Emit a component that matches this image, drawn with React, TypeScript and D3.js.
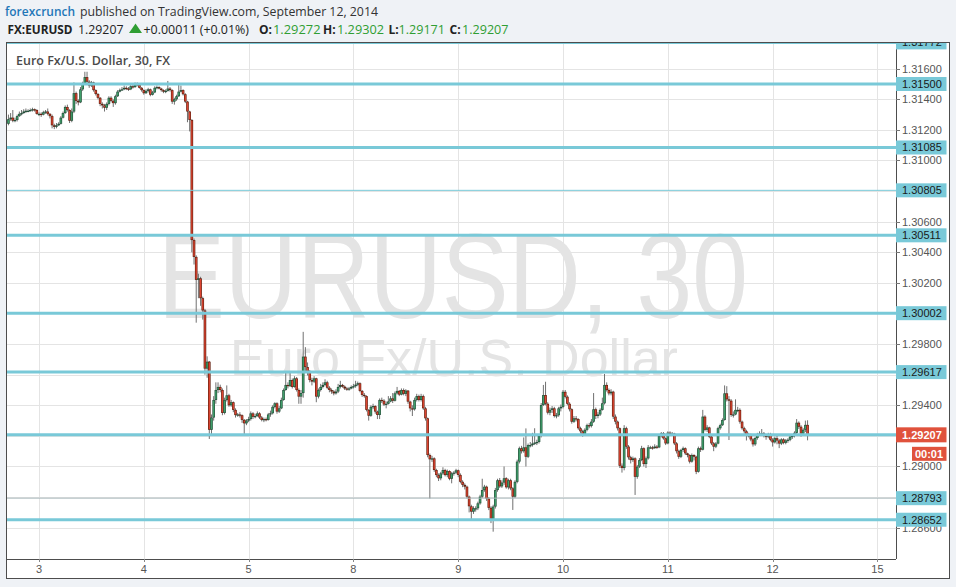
import React from "react";
import * as d3 from "d3";

// ---------- DATA (prices in pips above 1.28000, 30-minute bars, [high, low, close]) ----------
const PRICE_BASE = 1.28;
const PIP = 0.0001;
const FIRST_BAR = -14; // Sep 2, 17:00
const FIRST_OPEN = 324;

const sep02: number[][] = [
  [330, 323, 327], [331, 326, 328], [333, 325, 326], [328, 325, 326.5], [330, 325.5, 329], [332, 328.5, 330.5],
  [333, 329.5, 331], [333.5, 330.5, 332], [334, 331, 332.5], [333.5, 331.5, 332.5], [334, 332, 333], [334.5, 332, 333.5],
  [334, 332, 333], [333.5, 330, 330.5],
];
const sep03: number[][] = [
  [331.5, 329, 330.5], [331.5, 328.5, 330], [332.5, 329.5, 331.5], [333, 330.5, 332], [334, 329.5, 330.5], [331, 327.5, 329],
  [330, 321, 323], [324, 320.5, 322], [324.5, 321, 323], [325, 322.5, 324], [329, 323.5, 328], [332, 327.5, 331],
  [336, 330.5, 335], [336.5, 332, 333], [333.5, 324.5, 326], [334, 325, 332], [351, 331, 344], [345, 337, 339],
  [340, 336, 338], [348, 337.5, 346.5], [351.5, 345.5, 350], [358, 349.5, 354.5], [358, 350, 351.5], [352.5, 347.5, 349],
  [352, 348, 351], [351.5, 345, 346], [346.5, 342.5, 343.5], [344, 340, 341], [341.5, 335.5, 337], [338, 334, 336],
  [337, 332, 334.5], [338, 333, 337], [342, 336, 341], [342, 338, 339], [340, 335, 337.5], [343, 336.5, 342],
  [346, 341.5, 345], [347, 344.5, 346], [348, 345.5, 346.5], [349, 346, 347.5], [348.5, 346, 347], [348, 345.5, 346.5],
  [349.5, 346, 348.5], [349.5, 347, 348], [351, 347.5, 350], [351, 348.5, 349.5], [350, 347, 347.5], [348, 345, 346],
];
const sep04: number[][] = [
  [346.5, 343, 344], [346.5, 343.5, 345.5], [347.5, 344.5, 346.5], [347, 342, 343], [345.5, 342.5, 344.5], [348.5, 344, 347.5],
  [349, 346.5, 348], [348.5, 346.5, 347], [347.5, 345, 346], [346.5, 344, 345], [346.5, 344, 345.5], [352, 345, 347],
  [348, 345, 346], [346.5, 337, 338.5], [341, 336.5, 340], [343, 339, 342], [349.5, 341.5, 345], [349, 344.5, 346],
  [346.5, 342.5, 343.3], [344, 337.5, 338.5], [339, 325, 332], [332.5, 319, 326.5], [327, 240, 248], [249, 232, 237],
  [238, 194, 222], [226, 210, 223], [224, 205, 210], [211, 196, 202], [203, 160, 164], [172, 158, 168.5],
  [169, 118, 124], [134, 121, 132], [146, 130, 143.5], [155, 141, 150], [155, 148, 152], [153.5, 148.5, 150],
  [151, 133.5, 135], [145, 134, 143.5], [153, 142.5, 146.5], [147.5, 139, 140], [143.5, 139, 142], [142.5, 135.5, 137],
  [138, 132, 133.6], [135, 132.5, 134], [135.5, 132, 133.5], [134, 128.5, 130.5], [131, 121, 128.2], [131, 127, 130],
];
const sep05: number[][] = [
  [132.5, 129, 131], [136, 130, 134.7], [135.5, 131, 132.5], [134.5, 131.5, 133], [136, 132.5, 134.7], [135.5, 131, 132],
  [133, 129.5, 130.4], [132, 129, 131], [132, 129.5, 130.4], [135, 130, 134], [136.5, 132.5, 134.8], [140, 134, 139],
  [142, 138, 141.3], [142, 134.5, 135.9], [139.5, 135, 138], [145, 137.5, 143.5], [151, 143, 150], [162, 149.5, 153.3],
  [155, 151, 152.5], [162, 152, 156.5], [157.5, 151, 152], [159, 151.5, 157.6], [158.5, 149, 150], [151, 141, 145.7],
  [150, 141, 148], [188, 145, 171.8], [178, 162, 165], [168, 159.5, 162], [163, 155, 156.5], [158, 153, 155.5],
  [159, 154.5, 157.6], [158, 142, 145.7], [151, 144.5, 150], [154, 149, 152], [155, 151, 153.3], [157, 152.5, 155],
  [156, 150.5, 151.5], [152.5, 148.5, 150], [151, 147.5, 149], [150, 146.5, 147.8], [150.5, 147, 149], [154, 148, 152],
];
const sep07: number[][] = [
  [156, 151, 153.3], [154, 151.5, 152.2], [153, 150, 151], [152, 149.5, 150.5], [152, 149.5, 151], [153, 150.5, 152],
];
const sep08: number[][] = [
  [154, 151, 152.5], [156, 151.5, 153.5], [155.5, 152.5, 154.4], [155, 148.5, 149.4], [150, 145.5, 146.8], [148, 145, 146],
  [146.5, 136, 137], [137.5, 130, 133.2], [140, 132.5, 139], [141, 137.5, 139.5], [140, 134.5, 135.9], [136.5, 131, 133.7],
  [144.5, 131, 143.5], [145, 141.5, 143], [144, 139.5, 140.5], [142.5, 138, 141], [146, 140.5, 142.5], [146, 142, 144.5],
  [148, 141.5, 143], [149, 142.5, 147.8], [152, 147, 149.4], [150, 146, 147], [151, 146.5, 150], [151, 146.5, 147.5],
  [150.5, 146, 149.6], [150, 141, 142.4], [143, 136, 138], [140, 133, 137.4], [145, 136.5, 143.5], [147.5, 142.5, 146],
  [147, 142.5, 143.5], [147.5, 142.5, 146], [147, 137, 138], [139, 130, 131.5], [132, 106, 107.5], [108.5, 79, 104.7],
  [107, 103, 105.3], [106, 96.5, 97.7], [98.5, 93, 94.4], [95.5, 90.5, 92.3], [96.5, 91, 95.5], [99.5, 94.5, 97.7],
  [98.5, 93.5, 94.4], [98, 93, 97], [97.5, 91, 92], [96.5, 89, 95.5], [97, 94, 96], [98.5, 95, 97.5],
];
const sep09: number[][] = [
  [98, 93, 94.5], [95.5, 89, 90], [91, 86.5, 88], [89, 85, 86.8], [87.5, 79, 80.3], [81, 70, 74],
  [75, 65, 70.5], [74, 69, 72.7], [74, 70.5, 72.7], [77, 71.5, 75.9], [81.5, 75, 80.3], [92, 79.5, 84.6],
  [88, 83.5, 86.8], [87.5, 77.5, 79], [80, 71.5, 73], [74, 63, 65], [75, 57.4, 73.8], [86, 72.5, 84.6],
  [92, 83.5, 91], [92.5, 86, 87], [91, 86, 89.5], [100, 88, 92.3], [93, 85.5, 86.4], [92, 85, 91],
  [92, 84.5, 85.7], [86.5, 71.6, 80.3], [91, 79.5, 90], [104.5, 89, 103.2], [113, 102, 111.9], [113.5, 108.5, 110],
  [119, 109, 112.5], [124.9, 100, 106.4], [115, 105.5, 114], [116, 112.5, 114], [122, 113, 115], [125, 114, 115.6],
  [117.5, 114, 116], [121, 115, 120], [141.5, 119, 140.2], [153.3, 139.5, 146.7], [155.4, 140, 141], [142, 134, 135.2],
  [138.5, 133.5, 137], [139.5, 135, 138], [139, 132, 133], [135, 131.5, 133.5], [139, 132.5, 138], [140.5, 136, 139],
];
const sep10: number[][] = [
  [150, 138, 148.8], [150, 144.5, 145.6], [146.5, 140, 141], [142, 136, 137.4], [138, 128, 129.3], [133, 128.5, 131.5],
  [133, 129.5, 131], [131.5, 124, 125], [126, 121.5, 123], [124, 119.5, 120.6], [125, 120, 124], [128, 123, 127],
  [128.5, 125, 126.5], [131, 125.5, 129.3], [148, 128.5, 137.4], [138.5, 131, 133], [135.5, 131.5, 134], [138, 133, 137],
  [145, 136.5, 141.3], [160.5, 140.5, 153.3], [155, 149, 150], [151, 146.5, 147.8], [150.5, 146.5, 148.9], [149.5, 131, 132.6],
  [134, 127.5, 129.3], [130, 123.5, 125], [125.5, 99, 100.5], [102, 96, 99], [127, 97.5, 125], [126, 111.5, 113],
  [114, 104.5, 106], [107, 102, 104.2], [106.5, 103, 105.3], [106, 81.4, 93.3], [101, 92, 99.9], [105.5, 99, 104.2],
  [113.5, 103.5, 111.9], [112.5, 100, 101.6], [106.5, 99, 105.3], [114, 104.5, 112.5], [113.5, 111.5, 112.5], [113.5, 111, 112],
  [114.5, 111.5, 113], [114, 111.5, 112.5], [121, 112, 119.9], [122.5, 119, 121.7], [122.5, 117.5, 118.4], [119, 114, 115.1],
];
const sep11: number[][] = [
  [123, 114.5, 122.1], [123, 120, 121.2], [122.5, 120, 121.5], [122, 114, 115.1], [116, 108.5, 110], [111, 105, 106.4],
  [111.5, 105.5, 110.8], [113, 109.5, 111.9], [112.5, 107.5, 108.6], [109, 106, 107.5], [108, 102, 103.2], [108.5, 102.5, 107.5],
  [108, 104, 106.4], [107, 95, 96.6], [113, 96, 111.9], [113, 109.5, 111], [137, 110.5, 132.6], [133.5, 123, 124],
  [127, 122.5, 125.5], [126, 118.5, 119.5], [120, 114, 115.1], [116, 110, 113], [116, 112, 115], [126, 114.5, 125],
  [128, 124, 127], [131.5, 126.5, 130.4], [153, 130, 147.8], [152.5, 142.5, 143.9], [146, 117.3, 143], [144, 132.5, 133.7],
  [136, 132, 134], [143.9, 133.5, 137], [139, 135.5, 137], [138, 128, 129.3], [130, 124, 125], [126, 121.5, 123],
  [124, 117, 120], [122, 119, 120.6], [121.5, 116.5, 117.7], [118.5, 113, 114.5], [119.5, 113.5, 118.6], [122, 117.5, 121.2],
  [123, 120, 121.5], [124.5, 120.5, 121.7], [122.5, 119, 120], [121, 117.5, 119.5], [122, 118.5, 121.2], [122, 116.5, 117.5],
];
const sep12: number[][] = [
  [118.5, 113, 115.8], [119.5, 115, 118.5], [120, 114.5, 117], [118, 112, 115], [118.5, 114, 117.7], [118.5, 114.5, 115.5],
  [118, 114.5, 117], [118.5, 115.5, 117.5], [120.5, 116.5, 119.5], [121, 118, 120], [123, 119, 122], [131, 121, 128.6],
  [129.5, 124.5, 126], [127, 119.5, 121.5], [125, 120.5, 124], [130, 122.5, 127.2], [130.2, 117.1, 120.7],
];
const sessions = [sep02, sep03, sep04, sep05, sep07, sep08, sep09, sep10, sep11, sep12];

const dayTickBars = [0, 48, 96, 144, 192, 240, 288, 336, 384];
const dayTickLabels = ["3", "4", "5", "8", "9", "10", "11", "12", "15"];

const priceTicks = [1.286, 1.288, 1.29, 1.292, 1.294, 1.296, 1.298, 1.3, 1.302, 1.304, 1.306, 1.308, 1.31, 1.312, 1.314, 1.316];

const thickLevels = [1.31772, 1.315, 1.31085, 1.30511, 1.30002, 1.29617, 1.29207, 1.28652];
const thinLevels = [1.30805];
const greyLevels = [1.28793];
const lastPrice = 1.29207;
const changeText = "+0.00011 (+0.01%)";

// ---------- VIEW ----------
const VIEW_BARS: [number, number] = [-15.115, 392.5];
const VIEW_PRICES: [number, number] = [1.283954, 1.317745];

const COLORS = {
  bg: "#eff2f6",
  frame: "#4d4d4d",
  grid: "#e4e4e4",
  axisText: "#555555",
  level: "#79c9d8",
  greyLevel: "#aab9bd",
  upFill: "#3f9e6a",
  upLine: "#23513a",
  downFill: "#dc4431",
  downLine: "#65200f",
  wick: "#707070",
  red: "#e0523c",
  watermark: "#e4e4e4",
  green: "#2f9e33",
};

const fmt = (p: number) => p.toFixed(5);

export default function App() {
  const L = 6, R = 896, T = 42, B = 559;
  const x = d3.scaleLinear().domain(VIEW_BARS).range([L, R]);
  const y = d3.scaleLinear().domain(VIEW_PRICES).range([B, T]);

  const bars: { b: number; o: number; h: number; l: number; c: number }[] = [];
  let idx = FIRST_BAR;
  let prev = FIRST_OPEN;
  for (const s of sessions) {
    for (const [h, l, c] of s) {
      bars.push({ b: idx, o: prev, h, l, c });
      prev = c;
      idx++;
    }
  }
  const last = bars[bars.length - 1];
  const P = (v: number) => PRICE_BASE + v * PIP;

  const bodyW = 2.6;
  const innerW = 1.3;

  const labelW = 50.5;
  const labelH = 14;

  const font = "'Liberation Sans', Arial, sans-serif";
  const hfont = "'Open Sans', 'Noto Sans', sans-serif";

  const levelAll = [...greyLevels, ...thinLevels, ...thickLevels];
  // price tick labels fully hidden behind a level label are not drawn (as in the reference)
  const visibleTicks = priceTicks.filter((p) => levelAll.every((lv) => Math.abs(y(lv) - y(p)) > 6.5));

  return (
    <svg
      width={956}
      height={587}
      style={{ position: "fixed", left: 0, top: 0, display: "block" }}
      xmlns="http://www.w3.org/2000/svg"
    >
      <defs>
        <clipPath id="plotClip">
          <rect x={L + 1} y={T + 1} width={R - L - 1} height={B - T - 1} />
        </clipPath>
        <clipPath id="axisClip">
          <rect x={R - 1} y={T + 1} width={949 - R} height={578 - T} />
        </clipPath>
      </defs>
      <rect x={0} y={0} width={956} height={587} fill={COLORS.bg} />

      {/* header */}
      <g fontFamily={hfont} fontSize={12.5}>
        <text x={5} y={15.5} fill="#1f77b8" fontWeight={600} textLength={70} lengthAdjust="spacingAndGlyphs">forexcrunch</text>
        <text x={80} y={15.5} fill="#333" textLength={298} lengthAdjust="spacingAndGlyphs">published on TradingView.com, September 12, 2014</text>
      </g>
      <g fontFamily={hfont} fontSize={12} fill="#222">
        <text x={7.5} y={33.5} fontWeight={700} textLength={65} lengthAdjust="spacingAndGlyphs">FX:EURUSD</text>
        <text x={78} y={33.5} textLength={45.5} lengthAdjust="spacingAndGlyphs">{fmt(lastPrice)}</text>
        <path d="M129,33 L135.5,23.5 L142,33 Z" fill={COLORS.green} />
        <text x={143.5} y={33.5} textLength={105.5} lengthAdjust="spacingAndGlyphs">{changeText}</text>
        <text x={259} y={33.5} fontWeight={700}>O:</text>
        <text x={273} y={33.5} fill={COLORS.green} textLength={47.5} lengthAdjust="spacingAndGlyphs">{fmt(P(last.o))}</text>
        <text x={323} y={33.5} fontWeight={700}>H:</text>
        <text x={337} y={33.5} fill={COLORS.green} textLength={47} lengthAdjust="spacingAndGlyphs">{fmt(P(last.h))}</text>
        <text x={388.5} y={33.5} fontWeight={700}>L:</text>
        <text x={398.5} y={33.5} fill={COLORS.green} textLength={46.5} lengthAdjust="spacingAndGlyphs">{fmt(P(last.l))}</text>
        <text x={449.5} y={33.5} fontWeight={700}>C:</text>
        <text x={462} y={33.5} fill={COLORS.green} textLength={46.5} lengthAdjust="spacingAndGlyphs">{fmt(P(last.c))}</text>
      </g>

      {/* chart frame */}
      <rect x={L + 0.5} y={T + 0.5} width={949 - L} height={578 - T} fill="#ffffff" stroke={COLORS.frame} strokeWidth={1} />

      <g clipPath="url(#plotClip)">
        {/* grid */}
        {priceTicks.map((p) => (
          <line key={"hg" + p} x1={L} x2={R} y1={Math.round(y(p)) + 0.5} y2={Math.round(y(p)) + 0.5} stroke={COLORS.grid} />
        ))}
        {dayTickBars.map((b) => (
          <line key={"vg" + b} x1={Math.round(x(b)) + 0.5} x2={Math.round(x(b)) + 0.5} y1={T} y2={B} stroke={COLORS.grid} />
        ))}

        {/* watermark */}
        <text x={453} y={318} textAnchor="middle" fontFamily={font} fontSize={120} fill={COLORS.watermark}
          textLength={590} lengthAdjust="spacingAndGlyphs">EURUSD, 30</text>
        <text x={454} y={376} textAnchor="middle" fontFamily={font} fontSize={52} fill={COLORS.watermark}>Euro Fx/U.S. Dollar</text>

        {/* candles */}
        {bars.map((d) => {
          const cx = x(d.b);
          const up = d.c >= d.o;
          const yo = y(P(d.o));
          const yc = y(P(d.c));
          const top = Math.min(yo, yc);
          const hgt = Math.max(1.2, Math.abs(yo - yc));
          return (
            <g key={d.b}>
              <line x1={cx} x2={cx} y1={y(P(d.h))} y2={y(P(d.l))} stroke={COLORS.wick} strokeWidth={1} />
              <rect x={cx - bodyW / 2} y={top} width={bodyW} height={hgt} fill={up ? COLORS.upLine : COLORS.downLine} />
              {hgt > 2 && (
                <rect x={cx - innerW / 2} y={top + 0.7} width={innerW} height={hgt - 1.4} fill={up ? COLORS.upFill : COLORS.downFill} />
              )}
            </g>
          );
        })}

        {/* horizontal levels */}
        {greyLevels.map((p) => (
          <line key={"gl" + p} x1={L} x2={R} y1={y(p)} y2={y(p)} stroke={COLORS.greyLevel} strokeWidth={1} />
        ))}
        {thinLevels.map((p) => (
          <line key={"tl" + p} x1={L} x2={R} y1={y(p)} y2={y(p)} stroke={COLORS.level} strokeWidth={1} />
        ))}
        {thickLevels.map((p) => (
          <line key={"kl" + p} x1={L} x2={R} y1={y(p)} y2={y(p)} stroke={COLORS.level} strokeWidth={3} />
        ))}

        {/* title */}
        <text x={16} y={65} fontFamily={hfont} fontSize={12.5} fontWeight={600} fill="#4a4a4a"
          textLength={154} lengthAdjust="spacingAndGlyphs">Euro Fx/U.S. Dollar, 30, FX</text>
      </g>

      {/* axes lines */}
      <line x1={R + 0.5} x2={R + 0.5} y1={T} y2={B} stroke={COLORS.frame} />
      <line x1={L} x2={R} y1={B + 0.5} y2={B + 0.5} stroke={COLORS.frame} />

      {/* right axis ticks */}
      <g clipPath="url(#axisClip)">
        {priceTicks.map((p) => (
          <line key={"tk" + p} x1={R} x2={R + 4} y1={Math.round(y(p)) + 0.5} y2={Math.round(y(p)) + 0.5} stroke="#777" />
        ))}
        {visibleTicks.map((p) => (
          <text key={"pt" + p} x={902} y={y(p) + 4} fontFamily={font} fontSize={11} fill={COLORS.axisText}>{fmt(p)}</text>
        ))}
        {levelAll.filter((p) => p !== lastPrice).map((p) => (
          <g key={"lb" + p}>
            <rect x={R} y={y(p) - labelH / 2} width={labelW} height={labelH} fill={COLORS.level} />
            <text x={902} y={y(p) + 4} fontFamily={font} fontSize={11} fill="#1a1a1a">{fmt(p)}</text>
          </g>
        ))}
        <rect x={R} y={y(lastPrice) - 7.5} width={labelW} height={15} fill={COLORS.red} />
        <text x={902} y={y(lastPrice) + 4} fontFamily={font} fontSize={11} fontWeight={700} fill="#ffffff">{fmt(P(last.c))}</text>
        <rect x={912} y={y(lastPrice) + 12} width={34.5} height={14} fill={COLORS.red} />
        <text x={929} y={y(lastPrice) + 23} textAnchor="middle" fontFamily={font} fontSize={11} fontWeight={700} fill="#ffffff">00:01</text>
      </g>

      {/* bottom axis */}
      {dayTickBars.map((b, i) => (
        <g key={"xt" + b}>
          <line x1={Math.round(x(b)) + 0.5} x2={Math.round(x(b)) + 0.5} y1={B} y2={B + 3} stroke="#888" />
          <text x={x(b)} y={573} textAnchor="middle" fontFamily={font} fontSize={11} fill={COLORS.axisText}>{dayTickLabels[i]}</text>
        </g>
      ))}
    </svg>
  );
}
